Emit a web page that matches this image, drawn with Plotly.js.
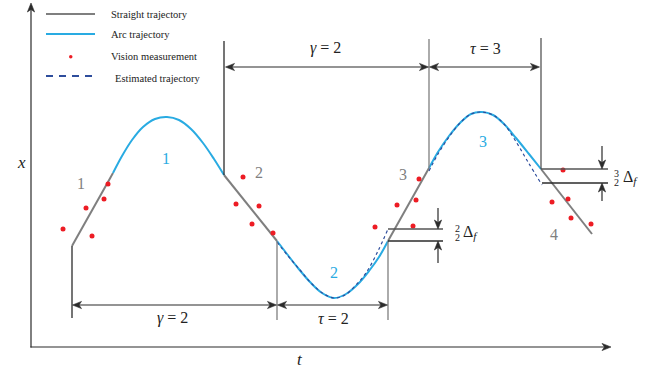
<!DOCTYPE html>
<html>
<head>
<meta charset="utf-8">
<script src="https://cdn.plot.ly/plotly-3.0.1.min.js"></script>
<style>html,body{margin:0;padding:0;background:#fff;}#chart{width:665px;height:369px;}</style>
</head>
<body>
<div id="chart"></div>
<script>
// ---- data (t = horizontal, x = vertical, screen-like units) ----
const straight1T = [72, 113];   const straight1X = [246, 173];
const straight2T = [224, 277];  const straight2X = [175, 241];
const straight3T = [388, 429];  const straight3X = [241, 168];
const straight4T = [541, 592];  const straight4X = [169, 234];

const arc1T = [113, 122, 132, 143, 155, 167, 179, 191, 203, 214, 224];
const arc1X = [173, 156, 140, 127, 119, 117, 120, 129, 143, 159, 175];
const arc2T = [277, 287, 298, 310, 322, 334, 346, 358, 369, 379, 388];
const arc2X = [241, 254, 268, 282, 293, 298, 294, 284, 271, 257, 241];
const arc3T = [429, 438, 449, 460, 471, 482, 493, 504, 516, 529, 541];
const arc3X = [168, 152, 136, 123, 114, 112, 115, 124, 138, 154, 169];

const est2T = [277, 288, 300, 312, 324, 334, 345, 356, 366, 378, 388];
const est2X = [242, 256, 270, 284, 294, 298, 295, 285, 273, 251, 229];
const est3T = [429, 438, 449, 460, 471, 482, 493, 504, 515, 528, 542];
const est3X = [171, 154, 137, 123, 114, 112, 115, 124, 140, 162, 185];

const visionT = [63, 86, 92, 104, 108, 236, 243, 252, 259, 273, 375, 397, 413, 416, 419, 552, 563, 568, 571, 591];
const visionX = [229, 208, 236, 199, 184, 204, 177, 224, 206, 233, 227, 205, 226, 200, 179, 202, 170, 199, 218, 224];

const straightLabels = ['1', '2', '3', '4'];
const arcLabels = ['1', '2', '3'];
const gammaTau = ['γ', 'τ'];
const spanValues = [2, 2, 2, 3];
const legendNames = ['Straight trajectory', 'Arc trajectory', 'Vision measurement', 'Estimated trajectory'];

// ---- styles & layout positions ----
const GRAY = '#7f7f7f', BLUE = '#29abe2', RED = '#ed1c24', DBLUE = '#2e4d9c', DARK = '#2b2b2b';
const serif = 'Liberation Serif, Times New Roman, serif';

const traces = [];
function line(t, x, color, dash, width) {
  traces.push({type: 'scatter', mode: 'lines', x: t, y: x, hoverinfo: 'skip',
    line: {color: color, width: width || 2, dash: dash || 'solid', shape: 'spline', smoothing: 1}});
}
line(straight1T, straight1X, GRAY); line(straight2T, straight2X, GRAY);
line(straight3T, straight3X, GRAY); line(straight4T, straight4X, GRAY);
line(arc1T, arc1X, BLUE); line(arc2T, arc2X, BLUE); line(arc3T, arc3X, BLUE);
line(est2T, est2X, DBLUE, '3px,3px', 1.2); line(est3T, est3X, DBLUE, '3px,3px', 1.2);
traces.push({type: 'scatter', mode: 'markers', x: visionT, y: visionX, hoverinfo: 'skip',
  marker: {color: RED, size: 5}});

const shapes = [];
function seg(x0, y0, x1, y1, color, w) {
  shapes.push({type: 'line', x0: x0, y0: y0, x1: x1, y1: y1, xref: 'x', yref: 'y',
    line: {color: color, width: w || 1.3}});
}
// arrowhead at (x,y) pointing along (dx,dy)
function head(x, y, dx, dy) {
  const L = 9, W = 3.6, N = 6.5;
  const px = -dy, py = dx;
  const bx = x - dx * L, by = y - dy * L, nx = x - dx * N, ny = y - dy * N;
  const p = 'M' + x + ',' + y + ' L' + (bx + px * W) + ',' + (by + py * W) + ' L' + nx + ',' + ny +
            ' L' + (bx - px * W) + ',' + (by - py * W) + ' Z';
  shapes.push({type: 'path', path: p, xref: 'x', yref: 'y', fillcolor: DARK, line: {color: DARK, width: 0.6}});
}
function arrow(xh, yh, xt, yt, w) {
  const len = Math.hypot(xh - xt, yh - yt);
  const dx = (xh - xt) / len, dy = (yh - yt) / len;
  seg(xt, yt, xh - dx * 4, yh - dy * 4, DARK, w || 1.2);
  head(xh, yh, dx, dy);
}
const ann = [];
function text(x, y, s, size, color, xa, fam) {
  ann.push({x: x, y: y, xref: 'x', yref: 'y', text: s, showarrow: false, xanchor: xa || 'center', yanchor: 'middle',
    font: {family: fam || serif, size: size, color: color || '#222'}});
}
// extension lines
seg(72, 246, 72, 318, DARK);
seg(224, 41, 224, 175, DARK);
seg(277, 241, 277, 320, GRAY);
seg(388, 241, 388, 320, GRAY);
seg(429, 39, 429, 168, GRAY);
seg(541, 38, 541, 169, '#555');
// delta lines
seg(388, 229, 443, 229, '#555'); seg(388, 241, 443, 241, DARK);
seg(541, 169, 608, 169, '#555'); seg(542, 183, 608, 183, DARK);
// legend samples
seg(46, 14, 95, 14, GRAY, 2);
seg(46, 34, 95, 34, BLUE, 2);
shapes.push({type: 'line', x0: 46, y0: 76, x1: 94, y1: 76, line: {color: DBLUE, width: 2, dash: '7px,6px'}});
shapes.push({type: 'circle', x0: 69, y0: 55, x1: 72.5, y1: 58.5, fillcolor: RED, line: {width: 0}});

// axes
arrow(31, 3, 31, 347.6);
arrow(611, 347, 30.4, 347);
text(21, 162, '<i>x</i>', 17, '#222');
text(300, 359, '<i>t</i>', 17, '#222');
// dimension arrows
function dim(a, b, y) {
  seg(a + 4, y, b - 4, y, DARK, 1.2);
  head(a + 0.5, y, -1, 0); head(b - 0.5, y, 1, 0);
}
dim(225, 429, 67); dim(429, 540, 67);
dim(72, 277, 305); dim(277, 388, 305);
text(325, 48, '<i>' + gammaTau[0] + '</i> = ' + spanValues[2], 16);
text(485, 48, '<i>' + gammaTau[1] + '</i> = ' + spanValues[3], 16);
text(172, 318, '<i>' + gammaTau[0] + '</i> = ' + spanValues[0], 16);
text(333, 318, '<i>' + gammaTau[1] + '</i> = ' + spanValues[1], 16);
// delta arrows
arrow(438, 229, 438, 208); arrow(438, 241, 438, 263);
arrow(602, 169, 602, 146); arrow(602, 183, 602, 201);
text(457, 228, '2', 10); text(457, 237, '2', 10);
text(460.5, 232, 'Δ<sub><i>f</i></sub>', 16, '#222', 'left');
text(616.5, 173, '3', 10); text(616.5, 182, '2', 10);
text(620.5, 177, 'Δ<sub><i>f</i></sub>', 16, '#222', 'left');
// segment labels
const sPos = [[81, 183], [259, 172], [403, 174], [554, 234]];
straightLabels.forEach((s, i) => text(sPos[i][0], sPos[i][1], s, 16, GRAY));
const aPos = [[166, 158], [334, 272], [483, 141]];
arcLabels.forEach((s, i) => text(aPos[i][0], aPos[i][1], s, 16, BLUE));
// legend text
const lPos = [[109, 14], [109, 34], [109, 56], [113, 78]];
legendNames.forEach((s, i) => text(lPos[i][0], lPos[i][1], s, 10.5, '#222', 'left'));

const layout = {
  width: 665, height: 369, margin: {l: 0, r: 0, t: 0, b: 0},
  paper_bgcolor: '#fff', plot_bgcolor: '#fff', showlegend: false,
  xaxis: {range: [0, 665], visible: false, fixedrange: true},
  yaxis: {range: [369, 0], visible: false, fixedrange: true},
  shapes: shapes, annotations: ann
};
Plotly.newPlot('chart', traces, layout, {staticPlot: true, displayModeBar: false});
</script>
</body>
</html>
